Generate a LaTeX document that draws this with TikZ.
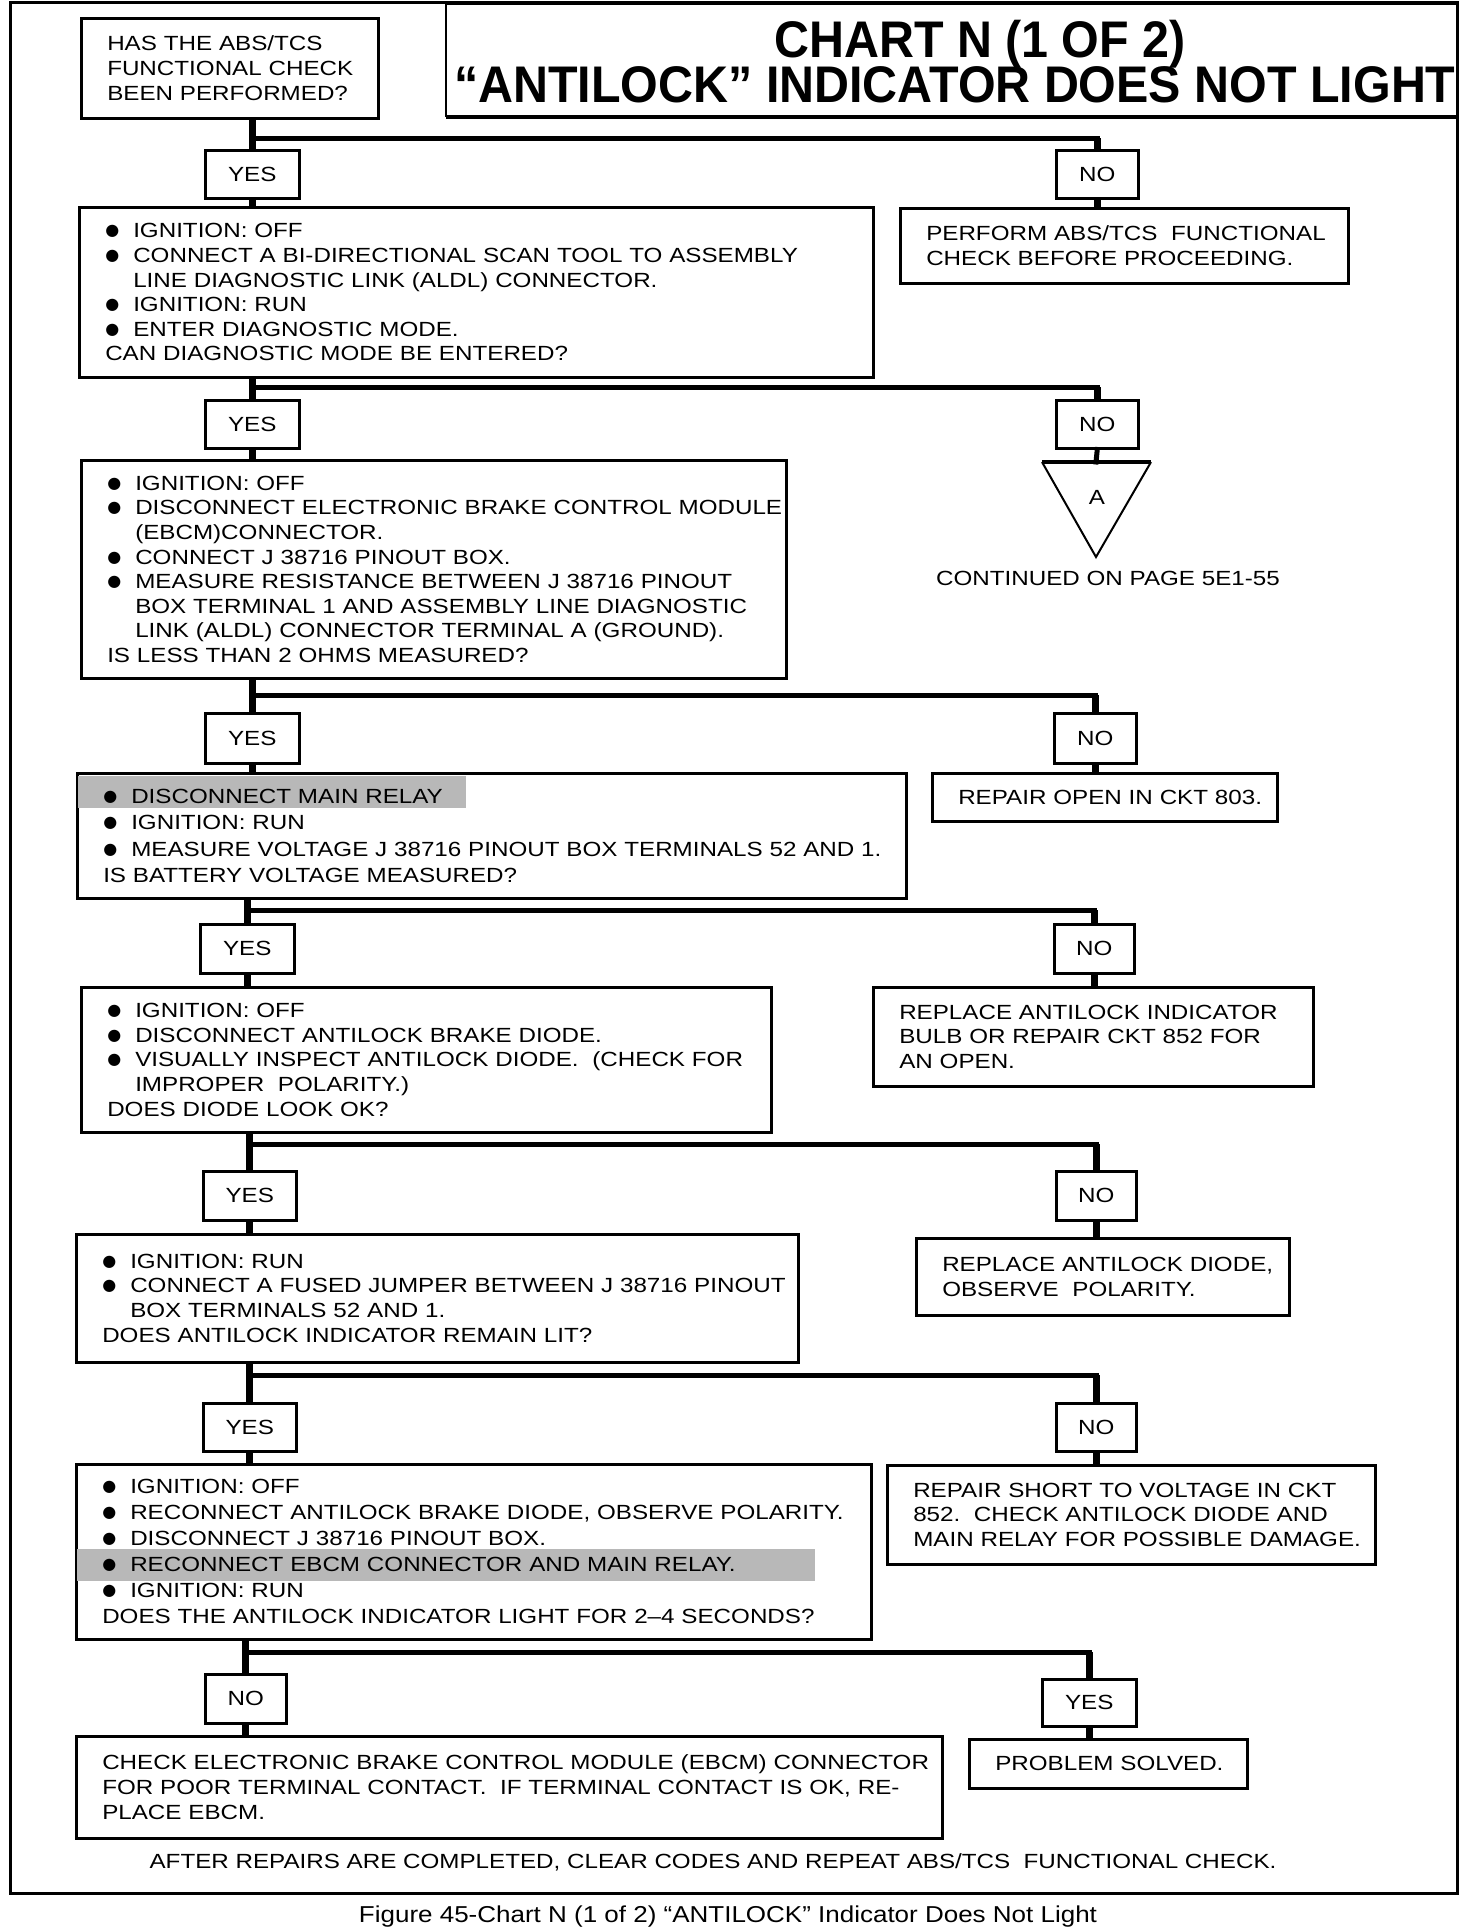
\documentclass[tikz,border=0pt]{standalone}
\usepackage{fontspec}
\setmainfont{Liberation Sans}[FakeStretch=1.18]
\newfontfamily\titlefont{Liberation Sans}[FakeStretch=0.94]
\newfontfamily\capfont{Liberation Sans}[FakeStretch=1.13]
\newfontfamily\dotfont{DejaVu Sans}
\usetikzlibrary{shadows}
\definecolor{shadegray}{gray}{0.72}
\newcommand\bodyfont{\fontsize{20.5}{24.6}\selectfont}
\newcommand\bl{\makebox[28pt][l]{\raisebox{2pt}{\dotfont\fontsize{16}{16}\selectfont ●}}}
\newcommand\ind{\hspace*{28pt}}
\newcommand\shadeline[4]{\makebox[0pt][l]{\hspace{-25pt}\smash{\textcolor{shadegray}{\rule[#2]{#1}{#3}}}}#4}
\begin{document}
\begin{tikzpicture}[x=1pt,y=-1pt,
  box/.style={draw, line width=2.5pt, fill=white,
    drop shadow={shadow xshift=2pt, shadow yshift=-2pt, fill=black, opacity=1},
    inner xsep=26pt, inner ysep=0pt, align=left, anchor=north west, font=\bodyfont},
  ans/.style={draw, line width=2.5pt, fill=white,
    drop shadow={shadow xshift=2pt, shadow yshift=-2pt, fill=black, opacity=1},
    inner sep=0pt, anchor=north west, font=\bodyfont},
  conn/.style={line width=7pt},
  bar/.style={line width=5pt, line cap=rect},
  plain/.style={inner sep=0pt, font=\bodyfont}]
\useasboundingbox (0,0) rectangle (1472,1928);
% outer frame
\draw[line width=3pt] (10,2) rectangle (1457,1893);
% title
\draw[line width=2.5pt, fill=white] (446,4) rectangle (1457,116);
\draw[line width=2pt] (446,118) -- (1457,118);
\node[inner sep=0pt, anchor=base, font=\titlefont\bfseries\fontsize{51.5}{52}\selectfont] (t1) at (980,57) {CHART N (1 OF 2)};
\node[inner sep=0pt, anchor=base west, font=\titlefont\bfseries\fontsize{51.5}{52}\selectfont] (t2) at (454,102) {“ANTILOCK” INDICATOR DOES NOT LIGHT};

% boxes
\node[box, minimum width=297pt, minimum height=100pt, text width=245pt] (q1) at (80,17)
 {\mbox{HAS THE ABS/TCS}\\\mbox{FUNCTIONAL CHECK}\\\mbox{BEEN PERFORMED?}};
\node[box, minimum width=794pt, minimum height=170pt, text width=742pt] (b2) at (78,206)
 {\mbox{\bl IGNITION: OFF}\\
  \mbox{\bl CONNECT A BI-DIRECTIONAL SCAN TOOL TO ASSEMBLY}\\
  \mbox{\ind LINE DIAGNOSTIC LINK (ALDL) CONNECTOR.}\\
  \mbox{\bl IGNITION: RUN}\\
  \mbox{\bl ENTER DIAGNOSTIC MODE.}\\
  \mbox{CAN DIAGNOSTIC MODE BE ENTERED?}};
\node[box, minimum width=448pt, minimum height=75pt, text width=396pt] (perf) at (899,207)
 {\mbox{PERFORM ABS/TCS\ \ FUNCTIONAL}\\\mbox{CHECK BEFORE PROCEEDING.}};
\node[box, minimum width=705pt, minimum height=218pt, text width=653pt] (b3) at (80,459)
 {\mbox{\bl IGNITION: OFF}\\
  \mbox{\bl DISCONNECT ELECTRONIC BRAKE CONTROL MODULE}\\
  \mbox{\ind (EBCM)CONNECTOR.}\\
  \mbox{\bl CONNECT J 38716 PINOUT BOX.}\\
  \mbox{\bl MEASURE RESISTANCE BETWEEN J 38716 PINOUT}\\
  \mbox{\ind BOX TERMINAL 1 AND ASSEMBLY LINE DIAGNOSTIC}\\
  \mbox{\ind LINK (ALDL) CONNECTOR TERMINAL A (GROUND).}\\
  \mbox{IS LESS THAN 2 OHMS MEASURED?}};
\node[box, minimum width=829pt, minimum height=125pt, text width=777pt, font=\fontsize{20.5}{26.5}\selectfont] (b4) at (76,772)
 {\mbox{\shadeline{388pt}{-5pt}{32pt}{\bl DISCONNECT MAIN RELAY}}\\
  \mbox{\bl IGNITION: RUN}\\
  \mbox{\bl MEASURE VOLTAGE J 38716 PINOUT BOX TERMINALS 52 AND 1.}\\
  \mbox{IS BATTERY VOLTAGE MEASURED?}};
\node[box, minimum width=345pt, minimum height=48pt, text width=293pt] (ropen) at (931,772)
 {\mbox{REPAIR OPEN IN CKT 803.}};
\node[box, minimum width=690pt, minimum height=145pt, text width=638pt] (b5) at (80,986)
 {\mbox{\bl IGNITION: OFF}\\
  \mbox{\bl DISCONNECT ANTILOCK BRAKE DIODE.}\\
  \mbox{\bl VISUALLY INSPECT ANTILOCK DIODE.\ \ (CHECK FOR}\\
  \mbox{\ind IMPROPER\ \ POLARITY.)}\\
  \mbox{DOES DIODE LOOK OK?}};
\node[box, minimum width=440pt, minimum height=99pt, text width=388pt] (rind) at (872,986)
 {\mbox{REPLACE ANTILOCK INDICATOR}\\\mbox{BULB OR REPAIR CKT 852 FOR}\\\mbox{AN OPEN.}};
\node[box, minimum width=722pt, minimum height=128pt, text width=670pt, font=\fontsize{20.5}{24.8}\selectfont] (b6) at (75,1233)
 {\mbox{\bl IGNITION: RUN}\\
  \mbox{\bl CONNECT A FUSED JUMPER BETWEEN J 38716 PINOUT}\\
  \mbox{\ind BOX TERMINALS 52 AND 1.}\\
  \mbox{DOES ANTILOCK INDICATOR REMAIN LIT?}};
\node[box, minimum width=373pt, minimum height=77pt, text width=321pt] (rdiode) at (915,1237)
 {\mbox{REPLACE ANTILOCK DIODE,}\\\mbox{OBSERVE\ \ POLARITY.}};
\node[box, minimum width=795pt, minimum height=175pt, text width=743pt, font=\fontsize{20.5}{26}\selectfont] (b7) at (75,1463)
 {\mbox{\bl IGNITION: OFF}\\
  \mbox{\bl RECONNECT ANTILOCK BRAKE DIODE, OBSERVE POLARITY.}\\
  \mbox{\bl DISCONNECT J 38716 PINOUT BOX.}\\
  \mbox{\shadeline{738pt}{-9pt}{32pt}{\bl RECONNECT EBCM CONNECTOR AND MAIN RELAY.}}\\
  \mbox{\bl IGNITION: RUN}\\
  \mbox{DOES THE ANTILOCK INDICATOR LIGHT FOR 2–4 SECONDS?}};
\node[box, minimum width=488pt, minimum height=99pt, text width=436pt] (rshort) at (886,1464)
 {\mbox{REPAIR SHORT TO VOLTAGE IN CKT}\\\mbox{852.\ \ CHECK ANTILOCK DIODE AND}\\\mbox{MAIN RELAY FOR POSSIBLE DAMAGE.}};
\node[box, minimum width=866pt, minimum height=102pt, text width=814pt, font=\fontsize{20.5}{24.8}\selectfont] (b8) at (75,1735)
 {\mbox{CHECK ELECTRONIC BRAKE CONTROL MODULE (EBCM) CONNECTOR}\\
  \mbox{FOR POOR TERMINAL CONTACT.\ \ IF TERMINAL CONTACT IS OK, RE-}\\
  \mbox{PLACE EBCM.}};
\node[box, minimum width=278pt, minimum height=49pt, text width=226pt] (solved) at (968,1738)
 {\mbox{PROBLEM SOLVED.}};

% answer boxes
\node[ans, minimum width=94pt, minimum height=48pt] (y1) at (204,149) {YES};
\node[ans, minimum width=82pt, minimum height=48pt] (n1) at (1055,149) {NO};
\node[ans, minimum width=94pt, minimum height=48pt] (y2) at (204,399) {YES};
\node[ans, minimum width=82pt, minimum height=48pt] (n2) at (1055,399) {NO};
\node[ans, minimum width=94pt, minimum height=50pt] (y3) at (204,712) {YES};
\node[ans, minimum width=82pt, minimum height=50pt] (n3) at (1053,712) {NO};
\node[ans, minimum width=94pt, minimum height=49pt] (y4) at (199,923) {YES};
\node[ans, minimum width=80pt, minimum height=49pt] (n4) at (1053,923) {NO};
\node[ans, minimum width=93pt, minimum height=49pt] (y5) at (202,1170) {YES};
\node[ans, minimum width=80pt, minimum height=49pt] (n5) at (1055,1170) {NO};
\node[ans, minimum width=93pt, minimum height=48pt] (y6) at (202,1402) {YES};
\node[ans, minimum width=80pt, minimum height=48pt] (n6) at (1055,1402) {NO};
\node[ans, minimum width=81pt, minimum height=49pt] (n7) at (204,1673) {NO};
\node[ans, minimum width=94pt, minimum height=47pt] (y7) at (1041,1678) {YES};

% triangle off-page connector
\coordinate (tri) at (1096,462);
\draw[line width=2pt, line join=miter] (1042,462) -- (1096,557) -- (1151,462);
\draw[line width=4pt] (1042,462) -- (1151,462);
\node[plain] (A) at (1097,497) {A};
\node[plain] (cont) at (1108,578) {CONTINUED ON PAGE 5E1-55};

% junction levels
\coordinate (k1) at (0,138);
\coordinate (k2) at (0,387);
\coordinate (k3) at (0,695);
\coordinate (k4) at (0,910);
\coordinate (k5) at (0,1144);
\coordinate (k6) at (0,1375);
\coordinate (k7) at (0,1652);

% connectors
\draw[conn] (q1.south -| y1.north) -- (y1.north);
\draw[bar] (y1.north |- k1) -- (n1.north |- k1);
\draw[conn] (n1.north |- k1) -- (n1.north);
\draw[conn] (y1.south) -- (y1.south |- b2.north);
\draw[conn] (n1.south) -- (n1.south |- perf.north);

\draw[conn] (b2.south -| y2.north) -- (y2.north);
\draw[bar] (y2.north |- k2) -- (n2.north |- k2);
\draw[conn] (n2.north |- k2) -- (n2.north);
\draw[conn] (y2.south) -- (y2.south |- b3.north);
\draw[bar] (n2.south) -- (tri);

\draw[conn] (b3.south -| y3.north) -- (y3.north);
\draw[bar] (y3.north |- k3) -- (n3.north |- k3);
\draw[conn] (n3.north |- k3) -- (n3.north);
\draw[conn] (y3.south) -- (y3.south |- b4.north);
\draw[conn] (n3.south) -- (n3.south |- ropen.north);

\draw[conn] (b4.south -| y4.north) -- (y4.north);
\draw[bar] (y4.north |- k4) -- (n4.north |- k4);
\draw[conn] (n4.north |- k4) -- (n4.north);
\draw[conn] (y4.south) -- (y4.south |- b5.north);
\draw[conn] (n4.south) -- (n4.south |- rind.north);

\draw[conn] (b5.south -| y5.north) -- (y5.north);
\draw[bar] (y5.north |- k5) -- (n5.north |- k5);
\draw[conn] (n5.north |- k5) -- (n5.north);
\draw[conn] (y5.south) -- (y5.south |- b6.north);
\draw[conn] (n5.south) -- (n5.south |- rdiode.north);

\draw[conn] (b6.south -| y6.north) -- (y6.north);
\draw[bar] (y6.north |- k6) -- (n6.north |- k6);
\draw[conn] (n6.north |- k6) -- (n6.north);
\draw[conn] (y6.south) -- (y6.south |- b7.north);
\draw[conn] (n6.south) -- (n6.south |- rshort.north);

\draw[conn] (b7.south -| n7.north) -- (n7.north);
\draw[bar] (n7.north |- k7) -- (y7.north |- k7);
\draw[conn] (y7.north |- k7) -- (y7.north);
\draw[conn] (n7.south) -- (n7.south |- b8.north);
\draw[conn] (y7.south) -- (y7.south |- solved.north);

% footer and caption
\node[plain] (foot) at (713,1862) {AFTER REPAIRS ARE COMPLETED, CLEAR CODES AND REPEAT ABS/TCS\ \ FUNCTIONAL CHECK.};
\node[inner sep=0pt, font=\capfont\fontsize{23}{24}\selectfont] (cap) at (728,1917) {Figure 45-Chart N (1 of 2) “ANTILOCK” Indicator Does Not Light};
\end{tikzpicture}
\end{document}
